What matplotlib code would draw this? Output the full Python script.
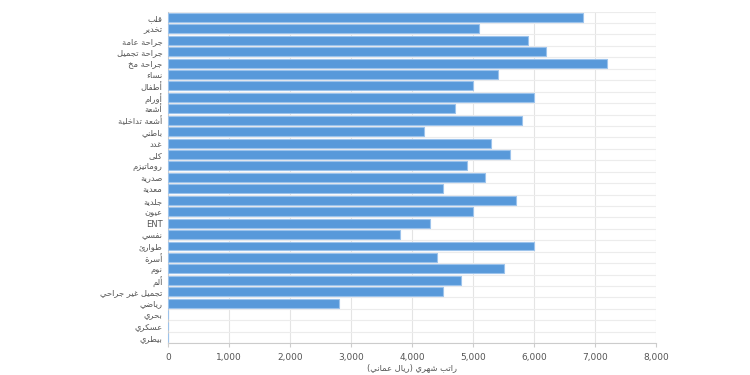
import unicodedata
import numpy as np
import matplotlib
matplotlib.use('Agg')
import matplotlib.pyplot as plt

specialties = ['قلب', 'تخدير', 'جراحة عامة', 'جراحة تجميل', 'جراحة مخ', 'نساء',
               'أطفال', 'أورام', 'أشعة', 'أشعة تداخلية', 'باطني', 'غدد', 'كلى',
               'روماتيزم', 'صدرية', 'معدية', 'جلدية', 'عيون', 'ENT', 'نفسي',
               'طوارئ', 'أسرة', 'نوم', 'ألم', 'تجميل غير جراحي', 'رياضي',
               'بحري', 'عسكري', 'بيطري']
salary = [6800, 5100, 5900, 6200, 7200, 5400, 5000, 6000, 4700, 5800, 4200,
          5300, 5600, 4900, 5200, 4500, 5700, 5000, 4300, 3800, 6000, 4400,
          5500, 4800, 4500, 2800, 0, 0, 0]
xticks = [0, 1000, 2000, 3000, 4000, 5000, 6000, 7000, 8000]
xlabel = 'راتب شهري (ريال عماني)'


def _form(ch, kind):
    try:
        return unicodedata.lookup(unicodedata.name(ch) + ' ' + kind + ' FORM')
    except (KeyError, ValueError):
        return None


def shape(s):
    # matplotlib does no arabic shaping, so pick presentation forms by hand
    if not any('\u0600' <= c <= '\u06ff' for c in s):
        return s
    out = []
    for i, ch in enumerate(s):
        if not ('\u0600' <= ch <= '\u06ff'):
            out.append(ch)
            continue
        prev = s[i - 1] if i > 0 else ' '
        nxt = s[i + 1] if i + 1 < len(s) else ' '
        jp = _form(prev, 'INITIAL') is not None and _form(ch, 'FINAL') is not None
        jn = _form(ch, 'INITIAL') is not None and _form(nxt, 'FINAL') is not None
        if jp and jn:
            f = _form(ch, 'MEDIAL')
        elif jp:
            f = _form(ch, 'FINAL')
        elif jn:
            f = _form(ch, 'INITIAL')
        else:
            f = _form(ch, 'ISOLATED')
        out.append(f or ch)
    swap = {'(': ')', ')': '('}
    return ''.join(swap.get(c, c) for c in reversed(out))


plt.rcParams['font.family'] = ['DejaVu Sans']

fig = plt.figure(figsize=(7.5, 3.75), dpi=100)
ax = fig.add_axes([0.224, 0.085, 0.651, 0.884])

y = np.arange(len(specialties))
ax.barh(y, salary, height=0.78, color='#5899da', edgecolor='#9cc3ec',
        linewidth=0.8, zorder=3)

ax.set_xlim(0, 8000)
ax.set_ylim(len(specialties) - 0.5, -0.5)
ax.set_xticks(xticks)
ax.set_xticklabels([f'{v:,}' for v in xticks])
ax.set_yticks(y)
ax.set_yticklabels([shape(s) for s in specialties])
ax.set_yticks(np.arange(len(specialties) + 1) - 0.5, minor=True)

ax.grid(axis='x', color='#e4e4e4', linewidth=0.8, zorder=0)
ax.grid(axis='y', which='minor', color='#ececec', linewidth=0.8, zorder=0)
ax.tick_params(axis='y', which='both', length=0, labelsize=6, colors='#555555', pad=4)
ax.tick_params(axis='x', length=3, color='#cccccc', labelsize=6.5, colors='#555555', pad=4)

for side in ['top', 'right']:
    ax.spines[side].set_visible(False)
ax.spines['left'].set_color('#cccccc')
ax.spines['bottom'].set_color('#cccccc')
ax.spines['left'].set_linewidth(0.8)
ax.spines['bottom'].set_linewidth(0.8)

ax.set_xlabel(shape(xlabel), fontsize=6, color='#555555', labelpad=1)

fig.savefig('out.png', dpi=100, facecolor='white')
